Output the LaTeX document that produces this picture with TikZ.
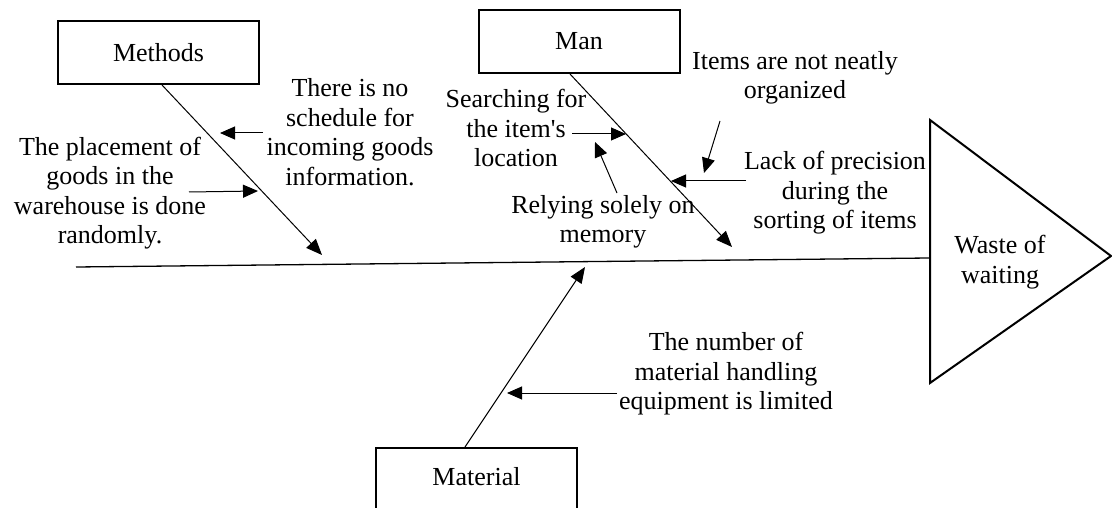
\documentclass[tikz,border=0pt]{standalone}
\usepackage{fontspec}
\setmainfont{Liberation Serif}
\usetikzlibrary{arrows.meta}
\begin{document}
\begin{tikzpicture}[x=1pt,y=-1pt,
  txt/.style={align=center, font=\fontsize{26}{29.5}\selectfont, inner sep=0pt},
  catbox/.style={draw, line width=2pt, minimum width=201pt, minimum height=63pt,
    font=\fontsize{26}{29.5}\selectfont, inner sep=0pt},
  bone/.style={line width=1pt, -{Triangle[length=16pt,width=13pt]}},
  cause/.style={line width=1pt, -{Triangle[length=15pt,width=13pt]}}]

\useasboundingbox (0,0) rectangle (1112,508);
\clip (0,0) rectangle (1112,508);

% category boxes
\node[catbox] (methods) at (158.5,52.5) {Methods};
\node[catbox] (man) at (579,41.5) {Man};
\node[catbox, anchor=north, minimum height=0pt, text height=37pt, text depth=40pt]
  (material) at (476.5,447) {Material};

% effect head
\coordinate (ttop) at (930,120);
\coordinate (tapex) at (1111,256);
\coordinate (tbot) at (930,383);
\draw[line width=2pt, line join=miter] (ttop) -- (tapex) -- (tbot) -- cycle;
\node[txt] (effect) at (1000,262) {Waste of\\waiting};

% spine
\coordinate (tail) at (76,267);
\coordinate (head) at (929,258);
\draw[line width=1.3pt] (tail) -- (head);

% main bones
\coordinate (mtip) at (322,255);
\coordinate (ntip) at (732,247);
\coordinate (ltip) at (585,267);
\draw[bone] ([xshift=3.5pt]methods.south) -- (mtip);
\draw[bone] ([xshift=-9pt]man.south) -- (ntip);
\draw[bone] ([xshift=-11.5pt]material.north) -- (ltip);

% causes
\node[txt] (sched) at (350,132) {There is no\\schedule for\\incoming goods\\information.};
\node[txt] (place) at (110,193) {The placement of\\goods in the\\warehouse is done\\randomly.};
\node[txt] (search) at (516,128) {Searching for\\the item\textquotesingle s\\location};
\node[txt] (memory) at (603,222) {Relying solely on\\memory};
\node[txt] (neat) at (795,78) {Items are not neatly\\organized};
\node[txt] (precision) at (835,193) {Lack of precision\\during the\\sorting of items};
\node[txt] (equip) at (726,374) {The number of\\material handling\\equipment is limited};

\coordinate (c1s) at (263,133); \coordinate (c1e) at (220,133);
\coordinate (c2s) at (189,192); \coordinate (c2e) at (258,191);
\coordinate (c3s) at (572,134); \coordinate (c3e) at (626,134);
\coordinate (c4s) at (617,193); \coordinate (c4e) at (595,142);
\coordinate (c5s) at (720,121); \coordinate (c5e) at (704,173);
\coordinate (c6s) at (746,181); \coordinate (c6e) at (671,181);
\coordinate (c7s) at (617,393); \coordinate (c7e) at (507,393);

\draw[cause] (c1s) -- (c1e);
\draw[cause] (c2s) -- (c2e);
\draw[cause] (c3s) -- (c3e);
\draw[cause] (c4s) -- (c4e);
\draw[cause] (c5s) -- (c5e);
\draw[cause] (c6s) -- (c6e);
\draw[cause] (c7s) -- (c7e);
\end{tikzpicture}
\end{document}
